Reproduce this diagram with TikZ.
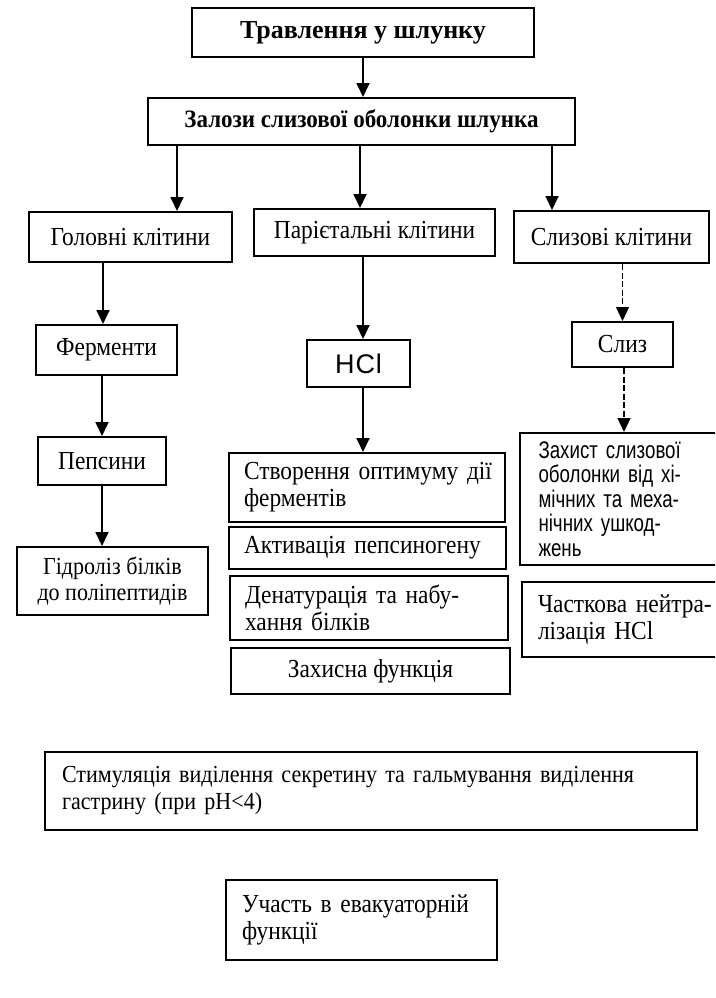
\documentclass[tikz,border=0pt]{standalone}
\usepackage{fontspec}
\setmainfont{Liberation Serif}
\newfontfamily\tfont{Liberation Serif}[FakeStretch=0.9]
\newfontfamily\bnfont{Liberation Serif}[FakeStretch=0.92]
\newfontfamily\sfont{Liberation Sans}[FakeStretch=0.78]
\newfontfamily\hfont{Liberation Sans}
\usetikzlibrary{arrows.meta}
\tikzset{
  box/.style={draw, line width=2pt, inner sep=0pt, font=\tfont\fontsize{26}{27}\selectfont},
  bbox/.style={box, font=\fontsize{26}{30}\selectfont\bfseries},
  arr/.style={line width=1.8pt, -{Triangle[width=13pt,length=14pt]}},
  darr/.style={line width=1.1pt, dash pattern=on 6pt off 2.5pt, -{Triangle[width=13pt,length=14pt]}},
}
\begin{document}
\begin{tikzpicture}[x=1pt,y=-1pt]
\useasboundingbox[fill=white] (0,0) rectangle (715,998);
\clip (0,0) rectangle (715,998);
% level 1-2
\node[bbox, minimum width=342pt, minimum height=49pt] (t1) at (363,32.5) {Травлення у шлунку};
\node[bbox, minimum width=427pt, minimum height=47pt, font=\bnfont\fontsize{25}{27}\selectfont\bfseries] (z) at (361.5,121.5) {Залози слизової оболонки шлунка};
% cells
\node[box, minimum width=203pt, minimum height=50pt] (g) at (130.5,237) {Головні клітини};
\node[box, minimum width=241pt, minimum height=47pt] (p) at (374.5,232.5) {Парієтальні клітини};
\node[box, minimum width=195pt, minimum height=52pt] (s) at (611.5,237) {Слизові клітини};
% left column
\node[box, minimum width=141pt, minimum height=50pt] (f) at (106.5,350) {Ферменти};
\node[box, minimum width=128pt, minimum height=48pt] (pe) at (102,461) {Пепсини};
\node[box, minimum width=191pt, minimum height=68pt, align=center, font=\tfont\fontsize{24.5}{26}\selectfont] (h) at (112.5,581) {Гідроліз білків\\до поліпептидів};
% middle column
\node[box, minimum width=103pt, minimum height=47pt, font=\hfont\fontsize{27}{30}\selectfont] (hcl) at (358.5,363.5) {H\hspace{1pt}C\hspace{1pt}l};
\node[box, minimum width=276pt, minimum height=69pt, text width=246pt, align=left] (c1) at (367,487.5) {\mbox{Створення оптимуму дії}\\ферментів};
\node[box, minimum width=277pt, minimum height=42pt, text width=247pt, align=left] (c2) at (367.5,548) {\mbox{Активація пепсиногену}};
\node[box, minimum width=278pt, minimum height=64pt, text width=248pt, align=left] (c3) at (369,608) {\mbox{Денатурація та набу-}\\хання білків};
\node[box, minimum width=279pt, minimum height=46pt] (c4) at (370.5,671) {Захисна функція};
% right column
\node[box, minimum width=101pt, minimum height=45pt] (sl) at (622.5,344.5) {Слиз};
\node[box, minimum width=205pt, minimum height=132pt, text width=168pt, align=left, font=\sfont\fontsize{24}{24.5}\selectfont] (zh) at (622.5,499) {\makebox[168pt][s]{Захист слизової}\\\makebox[168pt][s]{оболонки від хі-}\\\makebox[168pt][s]{мічних та меха-}\\\makebox[168pt][s]{нічних ушкод-}\\жень};
\node[box, minimum width=205pt, minimum height=75pt, text width=173pt, align=left] (ch) at (624.5,619.5) {\makebox[173pt][s]{Часткова нейтра-}\\лізація HCl};
% bottom
\node[box, minimum width=652pt, minimum height=78pt, text width=618pt, align=left, font=\tfont\fontsize{24.5}{27}\selectfont] (st) at (371,791) {\makebox[618pt][s]{Стимуляція виділення секретину та гальмування виділення}\\гастрину (при pH<4)};
\node[box, minimum width=271pt, minimum height=80pt, text width=239pt, align=left] (u) at (361.5,920) {\mbox{Участь в евакуаторній}\\функції};
% connectors
\draw[arr] (t1.south) -- (t1.south |- z.north);
\draw[arr] ([xshift=46.5pt]g.north |- z.south) -- ([xshift=46.5pt]g.north);
\draw[arr] ([xshift=-14.5pt]p.north |- z.south) -- ([xshift=-14.5pt]p.north);
\draw[arr] ([xshift=-59.5pt]s.north |- z.south) -- ([xshift=-59.5pt]s.north);
\draw[arr] ([xshift=-3.5pt]f.north |- g.south) -- ([xshift=-3.5pt]f.north);
\draw[arr] (pe.north |- f.south) -- (pe.north);
\draw[arr] (pe.south) -- (pe.south |- h.north);
\draw[arr] ([xshift=4.5pt]hcl.north |- p.south) -- ([xshift=4.5pt]hcl.north);
\draw[arr] ([xshift=4.5pt]hcl.south) -- ([xshift=4.5pt]hcl.south |- c1.north);
\draw[darr] (sl.north |- s.south) -- (sl.north);
\draw[darr] ([xshift=1.5pt]sl.south) -- ([xshift=1.5pt]sl.south |- zh.north);
\end{tikzpicture}
\end{document}
